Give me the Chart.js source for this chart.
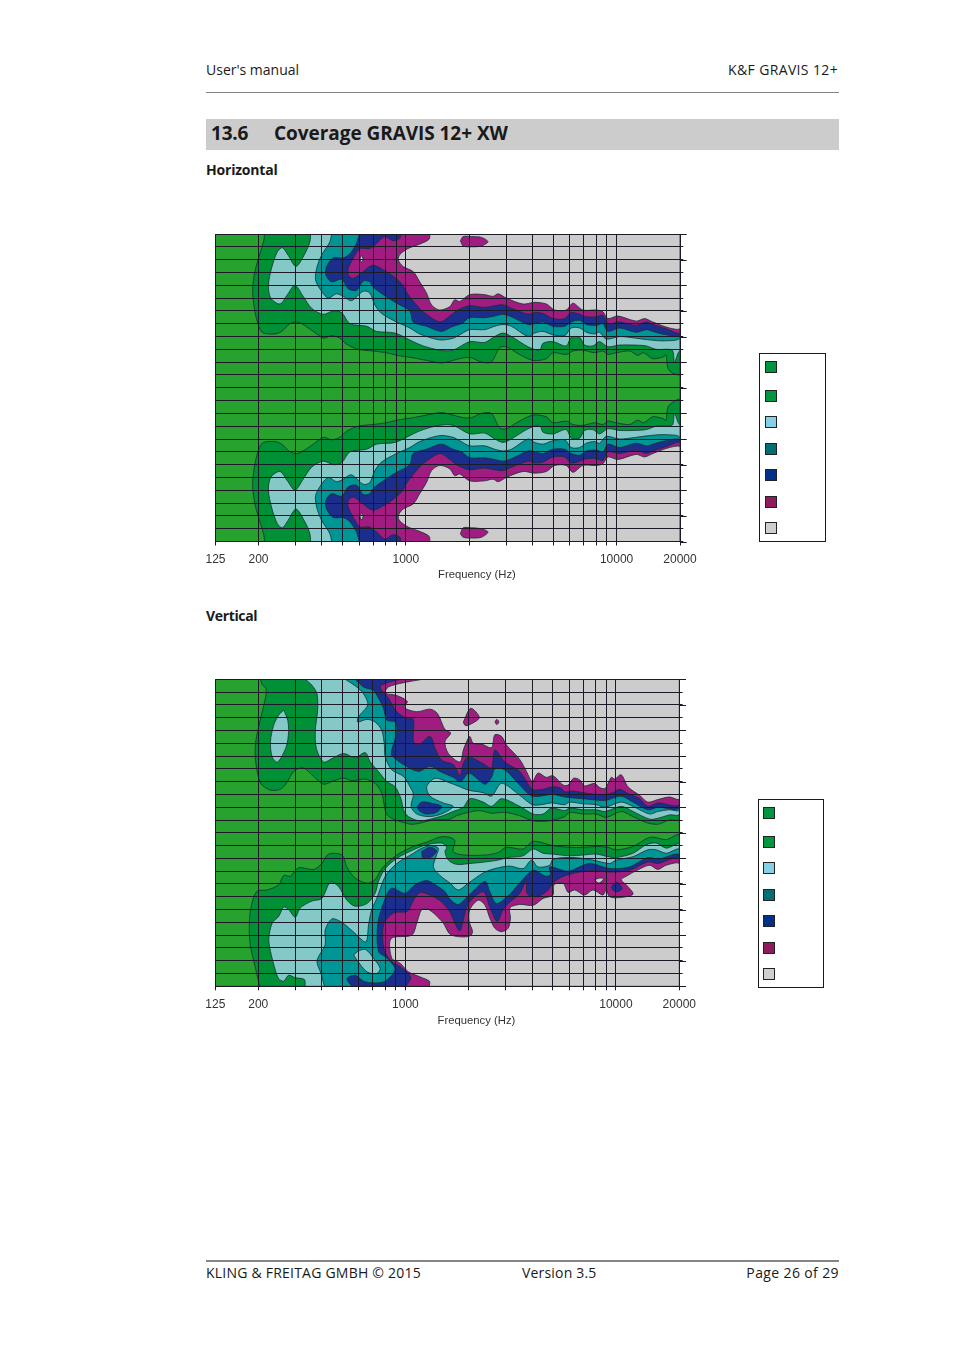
<!DOCTYPE html>
<html><head><meta charset="utf-8"><title>Coverage GRAVIS 12+ XW</title>
<script src="https://cdn.jsdelivr.net/npm/chart.js@4"></script>
<style>
html,body{margin:0;padding:0;background:#fff}
#page{position:relative;width:954px;height:1350px;overflow:hidden;font-family:"Open Sans","Noto Sans",sans-serif;color:#1a1a1a}
#page span{position:absolute;white-space:nowrap;line-height:1}
#page span.axt{font-family:"Liberation Sans",Arial,sans-serif;font-size:11.3px;color:#333}
canvas{position:absolute;left:195px}
.rule{position:absolute;left:206px;width:633px;background:#858585}
.lg{position:absolute;border:1px solid #1a1a1a;height:187px;background:#fff}
.sw{position:absolute;width:10px;height:10px;border:1px solid #222}
</style></head><body>
<div id="page">
<span style="left:206px;top:63px;font-size:14px">User's manual</span>
<span style="right:116px;top:63px;font-size:14px;letter-spacing:.36px">K&amp;F GRAVIS 12+</span>
<div class="rule" style="top:92px;height:1px"></div>
<div style="position:absolute;left:206px;top:119px;width:633px;height:31px;background:#cccccc"></div>
<span style="left:211px;top:124px;font-size:19px;font-weight:700;letter-spacing:-.2px">13.6</span>
<span style="left:274px;top:124px;font-size:19px;font-weight:700;letter-spacing:-.05px">Coverage GRAVIS 12+ XW</span>
<span style="left:206px;top:163px;font-size:14px;font-weight:700;letter-spacing:-.2px">Horizontal</span>
<span style="left:206px;top:609px;font-size:14px;font-weight:700;letter-spacing:-.35px">Vertical</span>
<canvas id="c1" width="520" height="365" style="top:224px;width:520px;height:365px"></canvas>
<canvas id="c2" width="520" height="365" style="top:669px;width:520px;height:365px"></canvas>
<span class="axt" id="t1" style="left:438px;top:569px"></span>
<span class="axt" id="t2" style="left:437.5px;top:1015px"></span>
<div class="lg" id="lg1" style="left:759px;top:353px;width:65px"></div>
<div class="lg" id="lg2" style="left:758px;top:799px;width:64px"></div>
<div class="rule" style="top:1260px;height:1.5px"></div>
<span style="left:206px;top:1266px;font-size:14px;letter-spacing:.22px">KLING &amp; FREITAG GMBH © 2015</span>
<span style="left:522px;top:1266px;font-size:14px;letter-spacing:.18px">Version 3.5</span>
<span style="right:115px;top:1266px;font-size:14px;letter-spacing:.38px">Page 26 of 29</span>
</div>
<script>
// Frequency axis (Hz) and angle axis (degrees)
const freqTicks=[125,200,300,400,500,600,700,800,900,1000,2000,3000,4000,5000,6000,7000,8000,9000,10000,20000];
const freqLabels=[125,200,1000,10000,20000];
const angleMin=-180, angleMax=180, angleStep=15;
const legendColors=['#009640','#009640','#86cfe8','#006d77','#003087','#8e1b5c','#cfcfcf'];
const bandColors=['#28a22e','#009136','#84c8c8','#009696','#1c2e8c','#a01c80','#cccccc'];
const axisLabel='Frequency (Hz)';

// Contours, as [log10(Hz), angle in degrees]
const fullRange=[[2.097,180],[4.301,180],[4.301,-180],[2.097,-180]];

// Horizontal, upper half
const hTop1=[[2.329,180],[2.327,173],[2.305,155],[2.284,136],[2.273,114],[2.284,89],[2.305,70],[2.324,64],[2.379,63],[2.411,66],[2.45,75],[2.482,77],[2.506,75],[2.561,66],[2.611,58],[2.648,61],[2.687,58],[2.719,51],[2.774,45],[2.845,43],[2.908,41],[2.956,38],[3.035,35],[3.098,32],[3.169,29],[3.209,31],[3.272,35],[3.311,35],[3.359,30],[3.406,30],[3.445,47],[3.477,48],[3.532,40],[3.603,32],[3.667,34],[3.698,41],[3.761,39],[3.793,43],[3.84,44],[3.896,41],[3.935,43],[3.959,39],[3.998,41],[4.062,43],[4.101,38],[4.128,41],[4.172,34],[4.22,36],[4.235,38],[4.243,23],[4.267,17],[4.301,16],[4.301,180]];
const hTop2=[[2.548,180],[2.545,171],[2.521,157],[2.479,142],[2.442,155],[2.414,164],[2.39,159],[2.363,140],[2.348,120],[2.359,105],[2.403,98],[2.438,109],[2.474,120],[2.513,107],[2.553,93],[2.608,86],[2.656,90],[2.695,88],[2.735,75],[2.814,72],[2.861,66],[2.948,64],[3.035,54],[3.082,49],[3.161,44],[3.224,44],[3.303,54],[3.374,53],[3.422,60],[3.461,64],[3.501,60],[3.58,48],[3.635,44],[3.651,52],[3.698,54],[3.761,49],[3.785,59],[3.825,59],[3.848,50],[3.888,49],[3.919,54],[3.959,48],[4.014,50],[4.077,50],[4.141,49],[4.188,45],[4.251,45],[4.267,43],[4.275,30],[4.291,40],[4.301,45],[4.301,180]];
const hTop3=[[2.648,180],[2.64,171],[2.6,155],[2.577,140],[2.572,126],[2.6,113],[2.632,105],[2.671,110],[2.703,107],[2.742,102],[2.798,113],[2.829,111],[2.853,97],[2.885,87],[2.956,77],[3.019,70],[3.066,63],[3.161,56],[3.224,58],[3.256,62],[3.303,68],[3.374,68],[3.422,72],[3.461,74],[3.501,72],[3.58,60],[3.611,64],[3.651,66],[3.698,62],[3.754,61],[3.785,70],[3.825,70],[3.856,65],[3.896,63],[3.919,65],[3.951,57],[4.014,60],[4.093,58],[4.156,56],[4.235,55],[4.301,59],[4.301,180]];
const hTop4=[[2.779,180],[2.766,169],[2.735,157],[2.703,152],[2.656,152],[2.624,142],[2.621,132],[2.648,124],[2.695,127],[2.727,116],[2.766,114],[2.798,125],[2.829,124],[2.845,118],[2.893,109],[2.956,99],[3.019,90],[3.035,77],[3.098,72],[3.169,66],[3.224,72],[3.264,75],[3.303,82],[3.374,82],[3.422,84],[3.461,86],[3.501,83],[3.58,74],[3.611,75],[3.651,77],[3.698,72],[3.754,72],[3.785,77],[3.825,79],[3.856,74],[3.904,73],[3.935,75],[3.959,66],[4.014,70],[4.093,65],[4.141,68],[4.172,66],[4.235,62],[4.301,62],[4.301,180]];
const hTop5=[[2.976,180],[2.972,175],[2.94,172],[2.9,177],[2.861,169],[2.829,163],[2.782,163],[2.758,155],[2.727,140],[2.727,132],[2.75,128],[2.798,136],[2.829,142],[2.853,143],[2.893,138],[2.932,132],[2.979,122],[3.011,109],[3.051,97],[3.082,89],[3.161,77],[3.209,84],[3.24,90],[3.264,93],[3.303,96],[3.374,94],[3.422,96],[3.461,97],[3.501,93],[3.58,86],[3.611,88],[3.651,87],[3.698,81],[3.754,81],[3.785,88],[3.825,86],[3.856,83],[3.904,83],[3.935,85],[3.959,75],[4.014,77],[4.093,73],[4.141,77],[4.172,74],[4.235,69],[4.301,65],[4.301,180]];
const hTop6=[[3.114,180],[3.111,174],[3.074,169],[3.011,163],[2.972,156],[2.964,150],[2.987,142],[3.035,136],[3.066,124],[3.098,111],[3.122,97],[3.161,91],[3.209,95],[3.232,103],[3.256,101],[3.303,109],[3.374,109],[3.414,107],[3.438,110],[3.477,105],[3.556,98],[3.611,100],[3.667,98],[3.706,91],[3.761,91],[3.793,99],[3.84,91],[3.904,91],[3.935,89],[3.959,81],[4.006,84],[4.093,78],[4.133,81],[4.172,77],[4.251,70],[4.301,70],[4.301,180]];
const hTopIsland=[[3.259,172],[3.272,177],[3.311,177],[3.359,176],[3.39,171],[3.359,166],[3.311,165],[3.272,166]];
const hTopHole=[[2.79,155],[2.797,151],[2.79,147],[2.783,151]];

// Horizontal, lower half
const hBot1=[[2.329,-180],[2.327,-173],[2.305,-155],[2.284,-136],[2.273,-114],[2.284,-89],[2.305,-70],[2.324,-64],[2.379,-63],[2.411,-66],[2.45,-75],[2.482,-77],[2.506,-75],[2.561,-66],[2.611,-58],[2.648,-61],[2.687,-58],[2.719,-51],[2.774,-45],[2.845,-43],[2.908,-41],[2.956,-38],[3.035,-35],[3.098,-32],[3.169,-29],[3.209,-31],[3.272,-35],[3.311,-35],[3.359,-30],[3.406,-30],[3.445,-47],[3.477,-48],[3.532,-40],[3.603,-32],[3.667,-34],[3.698,-41],[3.761,-39],[3.793,-43],[3.84,-44],[3.896,-41],[3.935,-43],[3.959,-39],[3.998,-41],[4.062,-43],[4.101,-38],[4.128,-41],[4.172,-34],[4.22,-36],[4.235,-38],[4.243,-23],[4.267,-17],[4.301,-14],[4.301,-180]];
const hBot2=[[2.548,-180],[2.545,-171],[2.521,-157],[2.479,-142],[2.442,-155],[2.414,-164],[2.39,-159],[2.363,-140],[2.348,-120],[2.359,-105],[2.403,-98],[2.438,-109],[2.474,-120],[2.513,-107],[2.553,-93],[2.608,-86],[2.656,-90],[2.695,-88],[2.735,-75],[2.814,-72],[2.861,-66],[2.948,-64],[3.035,-54],[3.082,-49],[3.161,-44],[3.224,-44],[3.303,-54],[3.374,-53],[3.422,-60],[3.461,-64],[3.501,-60],[3.58,-48],[3.635,-44],[3.651,-52],[3.698,-54],[3.761,-49],[3.785,-59],[3.825,-59],[3.848,-50],[3.888,-49],[3.919,-54],[3.959,-48],[4.014,-50],[4.077,-50],[4.141,-49],[4.188,-45],[4.251,-45],[4.267,-43],[4.275,-30],[4.291,-40],[4.301,-45],[4.301,-180]];
const hBot3=[[2.648,-180],[2.64,-171],[2.6,-155],[2.577,-140],[2.572,-126],[2.6,-113],[2.632,-105],[2.671,-110],[2.703,-107],[2.742,-102],[2.798,-113],[2.829,-111],[2.853,-97],[2.885,-87],[2.956,-77],[3.019,-70],[3.066,-63],[3.161,-56],[3.224,-58],[3.256,-62],[3.303,-68],[3.374,-68],[3.422,-72],[3.461,-74],[3.501,-72],[3.58,-60],[3.611,-64],[3.651,-66],[3.698,-62],[3.754,-61],[3.785,-70],[3.825,-70],[3.856,-65],[3.896,-63],[3.919,-65],[3.951,-57],[4.014,-60],[4.093,-58],[4.156,-56],[4.235,-55],[4.301,-59],[4.301,-180]];
const hBot4=[[2.779,-180],[2.766,-169],[2.735,-157],[2.703,-152],[2.656,-152],[2.624,-142],[2.621,-132],[2.648,-124],[2.695,-127],[2.727,-116],[2.766,-114],[2.798,-125],[2.829,-124],[2.845,-118],[2.893,-109],[2.956,-99],[3.019,-90],[3.035,-77],[3.098,-72],[3.169,-66],[3.224,-72],[3.264,-75],[3.303,-82],[3.374,-82],[3.422,-84],[3.461,-86],[3.501,-83],[3.58,-74],[3.611,-75],[3.651,-77],[3.698,-72],[3.754,-72],[3.785,-77],[3.825,-79],[3.856,-74],[3.904,-73],[3.935,-75],[3.959,-66],[4.014,-70],[4.093,-65],[4.141,-68],[4.172,-66],[4.235,-62],[4.301,-62],[4.301,-180]];
const hBot5=[[2.976,-180],[2.972,-175],[2.94,-172],[2.9,-177],[2.861,-169],[2.829,-163],[2.782,-163],[2.758,-155],[2.727,-140],[2.727,-132],[2.75,-128],[2.798,-136],[2.829,-142],[2.853,-143],[2.893,-138],[2.932,-132],[2.979,-122],[3.011,-109],[3.051,-97],[3.082,-89],[3.161,-77],[3.209,-84],[3.24,-90],[3.264,-93],[3.303,-96],[3.374,-94],[3.422,-96],[3.461,-97],[3.501,-93],[3.58,-86],[3.611,-88],[3.651,-87],[3.698,-81],[3.754,-81],[3.785,-88],[3.825,-86],[3.856,-83],[3.904,-83],[3.935,-85],[3.959,-75],[4.014,-77],[4.093,-73],[4.141,-77],[4.172,-74],[4.235,-69],[4.301,-65],[4.301,-180]];
const hBot6=[[3.114,-180],[3.111,-174],[3.074,-169],[3.011,-163],[2.972,-156],[2.964,-150],[2.987,-142],[3.035,-136],[3.066,-124],[3.098,-111],[3.122,-97],[3.161,-91],[3.209,-95],[3.232,-103],[3.256,-101],[3.303,-109],[3.374,-109],[3.414,-107],[3.438,-110],[3.477,-105],[3.556,-98],[3.611,-100],[3.667,-98],[3.706,-91],[3.761,-91],[3.793,-99],[3.84,-91],[3.904,-91],[3.935,-89],[3.959,-81],[4.006,-84],[4.093,-78],[4.133,-81],[4.172,-77],[4.251,-70],[4.301,-70],[4.301,-180]];
const hBotIsland=[[3.259,-171],[3.272,-164],[3.311,-164],[3.359,-165],[3.39,-169],[3.359,-175],[3.311,-176],[3.272,-175]];
const hBotHole=[[2.79,-155],[2.797,-151],[2.79,-147],[2.783,-151]];

// Vertical, upper half
const vTop1=[[2.311,180],[2.319,174],[2.338,169],[2.335,158],[2.308,130],[2.288,105],[2.288,85],[2.303,64],[2.319,56],[2.359,50],[2.406,51],[2.434,58],[2.469,72],[2.501,76],[2.524,75],[2.564,66],[2.611,57],[2.659,61],[2.706,64],[2.746,61],[2.809,63],[2.856,58],[2.888,46],[2.908,23],[2.935,17],[2.991,12],[3.038,10],[3.133,15],[3.212,16],[3.243,20],[3.299,24],[3.354,26],[3.409,23],[3.472,24],[3.543,20],[3.607,14],[3.686,14],[3.757,19],[3.78,24],[3.844,22],[3.907,22],[3.954,18],[4.025,25],[4.081,19],[4.144,12],[4.199,10],[4.254,15],[4.301,16],[4.301,180]];
const vTop2=[[2.524,180],[2.556,173],[2.58,163],[2.583,144],[2.572,120],[2.577,99],[2.611,83],[2.651,87],[2.706,93],[2.761,88],[2.809,94],[2.833,83],[2.872,72],[2.912,60],[2.951,54],[2.979,40],[2.991,27],[3.014,19],[3.07,14],[3.164,19],[3.227,25],[3.275,30],[3.306,40],[3.37,36],[3.409,31],[3.457,40],[3.543,31],[3.607,22],[3.654,22],[3.694,29],[3.757,26],[3.78,29],[3.844,27],[3.907,27],[3.949,25],[4.025,31],[4.081,25],[4.16,16],[4.199,17],[4.254,21],[4.301,22],[4.301,180]];
const vTopOval=[[2.422,144],[2.441,132],[2.445,118],[2.434,101],[2.393,83],[2.367,89],[2.359,107],[2.374,126],[2.398,138]];
const vTop3=[[2.714,180],[2.769,171],[2.801,163],[2.821,150],[2.777,136],[2.773,130],[2.817,133],[2.856,130],[2.888,120],[2.9,103],[2.904,89],[2.935,74],[2.991,66],[3.022,54],[3.038,45],[3.027,31],[3.054,22],[3.117,19],[3.18,23],[3.227,31],[3.18,35],[3.117,43],[3.101,54],[3.141,64],[3.196,60],[3.259,54],[3.299,50],[3.37,47],[3.409,43],[3.457,58],[3.543,44],[3.603,33],[3.646,33],[3.694,35],[3.757,33],[3.78,36],[3.844,34],[3.907,33],[3.949,30],[4.025,36],[4.081,31],[4.16,22],[4.199,25],[4.254,27],[4.301,27],[4.301,180]];
const vTop4=[[2.761,180],[2.801,171],[2.848,167],[2.872,158],[2.896,146],[2.912,132],[2.951,130],[2.959,118],[2.935,97],[2.935,91],[2.991,80],[3.062,72],[3.117,78],[3.164,72],[3.227,65],[3.262,60],[3.302,70],[3.378,57],[3.409,65],[3.425,75],[3.472,74],[3.543,56],[3.603,43],[3.701,45],[3.757,42],[3.844,40],[3.949,38],[4.025,43],[4.081,36],[4.152,27],[4.199,30],[4.301,30],[4.301,180]];
const vTop5=[[2.975,180],[2.927,177],[2.88,172],[2.888,167],[2.919,158],[2.959,142],[3.006,134],[3.038,133],[3.038,107],[3.062,103],[3.117,113],[3.141,99],[3.172,85],[3.227,80],[3.259,67],[3.275,81],[3.299,89],[3.37,81],[3.409,76],[3.425,97],[3.472,83],[3.543,72],[3.603,51],[3.654,51],[3.701,54],[3.741,52],[3.757,48],[3.796,49],[3.844,47],[3.907,45],[3.949,45],[3.986,47],[4.017,51],[4.057,46],[4.112,40],[4.152,31],[4.199,35],[4.301,34],[4.301,180]];
const vTop6=[[3.082,180],[2.991,176],[2.919,171],[2.904,164],[2.959,161],[3.009,154],[2.994,147],[3.054,142],[3.117,145],[3.152,140],[3.188,121],[3.215,117],[3.188,107],[3.204,93],[3.259,83],[3.275,97],[3.291,107],[3.306,113],[3.322,105],[3.362,104],[3.409,100],[3.425,115],[3.457,113],[3.48,103],[3.543,86],[3.575,72],[3.603,60],[3.63,70],[3.67,65],[3.701,67],[3.749,56],[3.773,56],[3.799,64],[3.828,62],[3.851,55],[3.899,58],[3.923,53],[3.949,52],[3.978,65],[3.994,63],[4.025,68],[4.057,54],[4.112,44],[4.152,36],[4.199,39],[4.254,42],[4.301,40],[4.301,180]];
const vTopIslandA=[[3.275,130],[3.31,146],[3.351,135],[3.299,126],[3.283,126]];
const vTopIslandB=[[3.425,130],[3.434,133],[3.444,130],[3.434,127]];
const vTopNavyIsland=[[3.054,30],[3.077,36],[3.117,35],[3.172,31],[3.148,24],[3.101,22],[3.07,25]];

// Vertical, lower half
const vBot1=[[2.308,-180],[2.288,-159],[2.261,-128],[2.261,-96],[2.28,-75],[2.299,-68],[2.343,-67],[2.398,-61],[2.422,-50],[2.453,-51],[2.493,-41],[2.564,-43],[2.603,-36],[2.635,-25],[2.698,-26],[2.722,-40],[2.761,-53],[2.817,-59],[2.856,-55],[2.888,-42],[2.959,-26],[3.038,-16],[3.101,-11],[3.164,-5],[3.204,-5],[3.235,-9],[3.227,-22],[3.275,-26],[3.385,-26],[3.441,-23],[3.48,-17],[3.559,-19],[3.607,-10],[3.701,-15],[3.78,-17],[3.844,-17],[3.907,-16],[3.962,-17],[4.002,-20],[4.081,-16],[4.144,-7],[4.175,-5],[4.239,-8],[4.301,-3],[4.301,-180]];
const vBot2=[[2.524,-180],[2.52,-172],[2.477,-170],[2.445,-167],[2.422,-174],[2.398,-171],[2.382,-161],[2.359,-139],[2.351,-124],[2.367,-106],[2.398,-98],[2.422,-87],[2.445,-90],[2.477,-99],[2.501,-88],[2.556,-80],[2.603,-77],[2.643,-58],[2.682,-63],[2.722,-79],[2.761,-86],[2.817,-83],[2.856,-71],[2.872,-57],[2.904,-42],[2.959,-30],[3.038,-20],[3.101,-14],[3.172,-12],[3.196,-17],[3.188,-22],[3.204,-32],[3.243,-37],[3.306,-36],[3.385,-34],[3.441,-32],[3.488,-29],[3.559,-27],[3.607,-19],[3.654,-24],[3.701,-25],[3.78,-27],[3.844,-26],[3.907,-25],[3.962,-28],[4.002,-29],[4.081,-24],[4.144,-14],[4.191,-12],[4.239,-18],[4.301,-14],[4.301,-180]];
const vBot3=[[2.615,-180],[2.599,-165],[2.58,-150],[2.619,-131],[2.619,-114],[2.651,-101],[2.698,-105],[2.761,-118],[2.812,-128],[2.825,-108],[2.84,-90],[2.864,-77],[2.904,-51],[2.959,-36],[3.038,-24],[3.07,-19],[3.117,-15],[3.156,-18],[3.148,-26],[3.133,-40],[3.164,-50],[3.212,-59],[3.251,-67],[3.299,-59],[3.37,-47],[3.425,-42],[3.496,-39],[3.559,-42],[3.599,-32],[3.63,-40],[3.686,-38],[3.701,-31],[3.796,-29],[3.891,-32],[3.97,-36],[4.002,-32],[4.081,-28],[4.152,-20],[4.191,-20],[4.239,-24],[4.301,-20],[4.301,-180]];
const vBot4=[[2.746,-180],[2.722,-171],[2.761,-167],[2.801,-174],[2.848,-176],[2.904,-174],[2.951,-160],[2.912,-147],[2.872,-139],[2.869,-106],[2.904,-77],[2.935,-65],[2.998,-71],[3.046,-61],[3.101,-56],[3.141,-61],[3.188,-69],[3.212,-78],[3.251,-84],[3.306,-72],[3.378,-57],[3.401,-69],[3.433,-83],[3.496,-72],[3.543,-59],[3.607,-44],[3.667,-51],[3.689,-49],[3.686,-40],[3.773,-45],[3.875,-36],[3.97,-42],[4.065,-40],[4.152,-29],[4.199,-31],[4.301,-27],[4.301,-180]];
const vBot5=[[3.003,-180],[3.025,-169],[2.975,-157],[2.935,-151],[2.899,-137],[2.896,-108],[2.943,-94],[3.009,-92],[3.038,-79],[3.07,-70],[3.117,-73],[3.172,-81],[3.212,-93],[3.235,-106],[3.259,-115],[3.275,-102],[3.299,-83],[3.37,-69],[3.401,-87],[3.436,-104],[3.464,-90],[3.488,-83],[3.543,-71],[3.575,-55],[3.578,-71],[3.615,-75],[3.67,-69],[3.709,-57],[3.773,-49],[3.891,-44],[3.97,-46],[4.065,-44],[4.152,-34],[4.199,-36],[4.301,-31],[4.301,-180]];
const vBot6=[[3.114,-180],[3.114,-174],[3.07,-169],[3.014,-163],[2.975,-153],[2.935,-147],[2.932,-124],[3.03,-120],[3.054,-106],[3.077,-90],[3.101,-89],[3.133,-94],[3.18,-106],[3.212,-119],[3.259,-122],[3.306,-121],[3.319,-116],[3.303,-104],[3.306,-90],[3.346,-79],[3.378,-85],[3.401,-100],[3.425,-112],[3.457,-116],[3.488,-112],[3.499,-100],[3.496,-88],[3.543,-84],[3.607,-85],[3.654,-77],[3.701,-73],[3.705,-61],[3.749,-59],[3.773,-70],[3.804,-67],[3.851,-73],[3.891,-67],[3.938,-73],[3.954,-67],[3.97,-75],[4.017,-76],[4.081,-72],[4.057,-63],[4.025,-55],[4.049,-51],[4.1,-44],[4.16,-38],[4.199,-43],[4.239,-38],[4.301,-37],[4.301,-180]];
const vBotPatch=[[2.754,-143],[2.782,-138],[2.812,-137],[2.848,-147],[2.88,-159],[2.864,-165],[2.817,-163],[2.769,-149]];
const vBotNavyIslandA=[[3.077,-22],[3.117,-17],[3.148,-21],[3.125,-28],[3.085,-30]];
const vBotNavyIslandB=[[3.978,-64],[4.002,-58],[4.03,-65],[4.009,-69],[3.989,-68]];
const vBotHole=[[3.899,-55],[3.923,-53],[3.942,-54],[3.919,-59]];

const lineColor='#173033';
const gridColor='#1b1a26';
const textColor='#333333';

function polygon(points,band){
  return {data:[...points,points[0]].map(p=>({x:Math.pow(10,p[0]),y:p[1]})),
    showLine:true,fill:'shape',backgroundColor:bandColors[band],borderColor:lineColor,
    borderWidth:0.8,pointRadius:0,tension:0.3};
}
const rightTicks={id:'rightTicks',afterDraw(c){
  const y=c.scales.y,ctx=c.ctx;ctx.save();ctx.strokeStyle=gridColor;ctx.lineWidth=1;
  y.ticks.forEach(t=>{ if(Math.abs(t.value)%30===0){
    const py=Math.round(y.getPixelForValue(t.value))+0.5;
    ctx.beginPath();ctx.moveTo(c.chartArea.right,py);ctx.lineTo(c.chartArea.right+6.7,py);ctx.stroke();}});
  ctx.restore();}};
function draw(id,layers,pad){
  new Chart(document.getElementById(id),{type:'scatter',
    data:{datasets:layers.map(l=>polygon(l[0],l[1])).reverse()},
    plugins:[rightTicks],
    options:{responsive:false,animation:false,events:[],
      layout:{padding:{left:pad.left,top:pad.top,right:0,bottom:0}},
      plugins:{legend:{display:false},tooltip:{enabled:false}},
      scales:{
        x:{type:'logarithmic',min:125,max:20000,bounds:'data',
          afterBuildTicks(s){s.ticks=freqTicks.map(v=>({value:v}));},
          afterFit(s){s.height=pad.bottom;},
          grid:{z:1,color:gridColor,lineWidth:1,tickLength:4,tickColor:gridColor},
          border:{display:true,color:gridColor,z:1},
          ticks:{autoSkip:false,maxRotation:0,minRotation:0,padding:7,color:textColor,
            font:{family:'"Liberation Sans",Arial,sans-serif',size:12},
            callback:v=>freqLabels.includes(v)?String(v):''}},
        y:{type:'linear',position:'right',min:angleMin,max:angleMax,
          afterFit(s){s.width=pad.right;},
          grid:{z:1,color:gridColor,lineWidth:1,tickLength:3.3,tickColor:gridColor},
          border:{display:true,color:gridColor,z:1},
          ticks:{stepSize:angleStep,display:false}}
      }}});
}
draw('c1',[[fullRange,0],[hTop1,1],[hBot1,1],[hTop2,2],[hBot2,2],[hTop3,3],[hBot3,3],[hTop4,4],[hBot4,4],[hTop5,5],[hBot5,5],[hTop6,6],[hBot6,6],[hTopIsland,5],[hBotIsland,5],[hTopHole,6],[hBotHole,6]],
  {left:20.5,top:10,right:35,bottom:47.5});
draw('c2',[[fullRange,0],[vTop1,1],[vBot1,1],[vTop2,2],[vBot2,2],[vTopOval,2],[vTop3,3],[vBot3,3],[vBotPatch,2],[vTopNavyIsland,4],[vBotNavyIslandA,4],[vTop4,4],[vBot4,4],[vTop5,5],[vBot5,5],[vTop6,6],[vBot6,6],[vTopIslandA,5],[vTopIslandB,5],[vBotNavyIslandB,4],[vBotHole,6]],
  {left:20.3,top:10.3,right:35.7,bottom:47.7});
document.getElementById('t1').textContent=axisLabel;
document.getElementById('t2').textContent=axisLabel;
// legend swatches
const legendOffsets=[7,36,62,89,115,142,168];
['lg1','lg2'].forEach(id=>{const box=document.getElementById(id);
  legendColors.forEach((c,i)=>{const s=document.createElement('div');s.className='sw';s.style.left=(id==='lg1'?5:4)+'px';s.style.top=legendOffsets[i]+'px';s.style.background=c;box.appendChild(s);});});
</script>
</body></html>
